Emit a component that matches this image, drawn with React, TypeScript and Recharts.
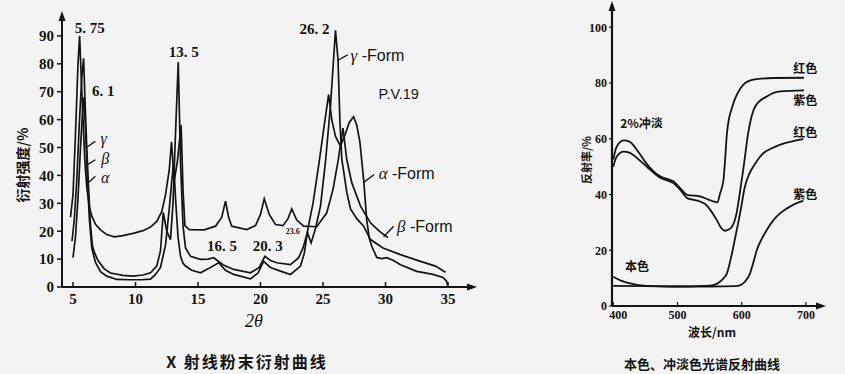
import { Line, LineChart, ReferenceDot, ReferenceLine, XAxis, YAxis } from "recharts";

type Pt = [number, number];

// X-ray powder diffraction, 2θ vs intensity %
const betaForm: Pt[] = [
  [4.8, 25], [5.0, 33], [5.2, 55], [5.4, 80], [5.53, 90], [5.65, 76], [5.8, 60], [5.95, 45], [6.1, 36], [6.3, 29],
  [6.5, 25.5], [6.8, 22.5], [7.2, 20.5], [7.7, 18.8], [8.3, 18], [9.0, 18.4], [9.8, 19.2], [10.6, 20.2], [11.2, 21.5],
  [11.7, 23.5], [12.1, 27], [12.4, 33], [12.7, 42], [12.88, 52], [13.1, 38], [13.35, 45], [13.65, 58], [13.8, 35],
  [13.95, 22], [14.3, 20.6], [15.5, 20.5], [16.4, 21.8], [16.9, 25], [17.2, 30.8], [17.45, 25], [17.7, 21.8],
  [18.9, 20.6], [19.6, 22], [20.0, 26], [20.3, 31.6], [20.7, 26], [21.2, 22.4], [21.8, 22], [22.2, 24.5], [22.5, 28],
  [22.9, 24], [23.45, 21.8], [24.5, 21.6], [25.3, 26.6], [25.8, 35], [26.2, 45], [26.6, 57], [26.9, 45.7],
  [27.3, 37.4], [28.0, 29], [28.8, 23], [29.5, 20], [30.2, 17.7],
];

const gammaForm: Pt[] = [
  [4.92, 16.4], [5.1, 24], [5.3, 38], [5.5, 58], [5.7, 75], [5.85, 82], [5.95, 68], [6.1, 50], [6.25, 35], [6.4, 22],
  [6.55, 15], [6.7, 12.5], [7.0, 9.5], [7.5, 6.5], [8.0, 5], [9.0, 4.2], [9.8, 3.9], [10.6, 4.3], [11.2, 5.1],
  [11.7, 7.5], [12.0, 13], [12.22, 26.7], [12.5, 20], [12.8, 17], [13.0, 30], [13.2, 55], [13.42, 80.6], [13.6, 45],
  [13.8, 22], [14.0, 14], [14.4, 11], [15.2, 9.9], [15.8, 10], [16.25, 10.5], [17.0, 8], [17.85, 6.3], [19.2, 5.1],
  [19.9, 7], [20.35, 11], [20.8, 9.5], [21.3, 8.7], [22.4, 8], [23.05, 10.5], [23.4, 14], [23.75, 19.5],
  [24.05, 15.8], [24.4, 21], [24.8, 29], [25.2, 45], [25.6, 65], [25.85, 82], [26.0, 92], [26.2, 81.5],
  [26.35, 60], [26.5, 46], [26.9, 34], [27.2, 28], [27.7, 24.5], [28.25, 21.8], [28.8, 17], [29.8, 14],
  [31.2, 11.6], [32.8, 9.2], [34.0, 7.5], [34.8, 5.3],
];

const alphaForm: Pt[] = [
  [5.0, 10.5], [5.2, 18], [5.4, 32], [5.6, 50], [5.78, 64], [5.88, 68], [6.0, 56], [6.15, 40], [6.3, 25], [6.5, 14],
  [6.8, 8.8], [7.2, 5.5], [7.7, 3.9], [8.5, 2.7], [9.5, 2.6], [10.5, 2.6], [11.2, 2.8], [11.6, 4.5], [12.0, 7],
  [12.4, 15], [12.7, 28], [12.9, 38], [13.05, 44.5], [13.2, 32], [13.4, 18], [13.6, 11], [13.8, 8.5], [14.0, 7.5],
  [14.5, 6], [15.2, 5.1], [15.8, 6.5], [16.65, 8.7], [17.2, 6], [17.85, 4.5], [19.2, 2.9], [19.8, 5], [20.25, 9.2],
  [20.8, 7], [21.6, 5.7], [22.4, 4.5], [23.2, 7.5], [23.5, 12], [23.8, 21], [24.2, 30], [24.7, 45], [25.1, 58],
  [25.45, 69], [25.7, 60], [26.0, 54], [26.4, 50.5], [26.8, 55], [27.1, 59], [27.45, 61], [27.7, 58], [27.95, 52],
  [28.25, 38.5], [28.5, 24], [28.7, 17.5], [28.9, 14.6], [29.3, 10.6], [29.7, 10.2], [30.1, 10.5], [30.6, 9.6],
  [31.2, 8], [32.5, 5.6], [33.8, 4.5], [34.6, 3.4], [34.9, 2], [35.0, 0],
];

const xrdXTicks = [5, 10, 15, 20, 25, 30, 35];
const xrdYTicks = [0, 10, 20, 30, 40, 50, 60, 70, 80, 90];
const peakLabels: [number, number, string][] = [
  [6.34, 92.8, "5. 75"],
  [7.42, 70.4, "6. 1"],
  [13.85, 84.4, "13. 5"],
  [24.32, 92.4, "26. 2"],
  [16.92, 14.6, "16. 5"],
  [20.58, 14.6, "20. 3"],
];
const greekTags: [number, number, string][] = [
  [7.45, 53.4, "γ"],
  [7.58, 46.2, "β"],
  [7.58, 39.1, "α"],
];
const formTags: [number, number, string][] = [
  [27.2, 83.2, "γ"],
  [29.45, 41, "α"],
  [30.92, 22, "β"],
];
const xrdPointers: [number, number, number, number][] = [
  [6.79, 52.2, 6.12, 50.2],
  [6.79, 45.6, 6.06, 43.6],
  [6.79, 39.7, 6.2, 37.3],
  [26.97, 83.2, 26.17, 81.2],
  [29.1, 40.3, 28.25, 37.5],
  [30.65, 21.8, 29.85, 18],
];

// spectral reflectance, nm vs %
const tintRed: Pt[] = [
  [400, 52.5], [405, 57], [416, 59.4], [425, 59], [440, 55], [452, 51], [473, 46.5], [485, 45.5], [494, 44.7],
  [505, 42], [515, 39.9], [535, 39.3], [548, 38.2], [556, 37.5], [562, 37.2], [566.4, 40.5], [571.6, 45.3],
  [574, 52], [577, 62], [580, 67], [584.6, 71], [592.4, 75.8], [602.6, 79.4], [618, 81.2], [650, 81.8], [697, 81.9],
];
const tintViolet: Pt[] = [
  [400, 50], [405, 53.5], [416, 55.4], [425, 55], [440, 52.5], [452, 50], [473, 46], [494, 44], [505, 41.5],
  [515, 38.7], [535, 37.5], [545, 36.2], [551, 34.5], [561, 30.9], [568, 28], [574, 27], [580, 27.5], [585, 28.5],
  [592, 33.3], [597, 40.5], [603, 50], [610, 62], [621, 71.6], [639, 75.2], [660, 77], [697, 77.4],
];
const massRed: Pt[] = [
  [400, 10.5], [413, 9], [426, 8.1], [452, 7.2], [504, 7], [540, 7.2], [556, 7.5], [566, 8.7], [572, 10], [577, 11.7],
  [582, 16], [587, 21.3], [592, 27], [597.5, 33.3], [605, 42.9], [612, 47.5], [618, 50], [625, 52.5], [634, 54.9],
  [646, 56.5], [660, 57.9], [680, 59.2], [696, 59.9],
];
const massViolet: Pt[] = [
  [400, 7.2], [450, 7.1], [500, 7], [550, 7], [590, 7.1], [598, 7.5], [605, 8.7], [613, 11.7], [618, 15.5],
  [623.5, 20.1], [631, 24], [639, 27.3], [650, 31], [660, 33.3], [680, 36.3], [696, 37.8],
];
const specXTicks = [400, 500, 600, 700];
const specYTicks = [0, 20, 40, 60, 80, 100];
const specTags: [number, number, string][] = [
  [699, 85.4, "红色"],
  [699, 74, "紫色"],
  [699, 62.6, "红色"],
  [699, 40.5, "紫色"],
  [444, 65.9, "2%冲淡"],
  [436.9, 14.7, "本色"],
];

const INK = "#141414";
const SERIF = "'Liberation Serif', 'DejaVu Serif', serif";
const SANS = "'Liberation Sans', Arial, sans-serif";
const CJK = "'Noto Sans CJK SC', sans-serif";

const toRows = (pts: Pt[]) => pts.map(([x, y]) => ({ x, y }));

function arrowUp(p: any) {
  const { cx, cy } = p;
  return <path d={`M${cx},${cy - 4} L${cx - 3.5},${cy + 6} L${cx + 3.5},${cy + 6} Z`} fill={INK} />;
}
function arrowRight(p: any) {
  const { cx, cy } = p;
  return <path d={`M${cx + 4},${cy} L${cx - 6},${cy - 3.5} L${cx - 6},${cy + 3.5} Z`} fill={INK} />;
}

function textShape(content: any, style: any, anchor = "middle") {
  return (p: any) => (
    <text x={p.cx} y={p.cy} textAnchor={anchor} dominantBaseline="central" fill={INK} style={style}>
      {content}
    </text>
  );
}

const tagDot = (key: string, x: number, y: number, shape: any) => (
  <ReferenceDot key={key} x={x} y={y} r={0} ifOverflow="visible" shape={shape} />
);

// first wavelength label sits a little right of its tick, clear of the "0"
function SpecXTick(p: any) {
  const shift = p.payload.value === specXTicks[0] ? 5 : 0;
  return (
    <text
      x={p.x + shift}
      y={p.y}
      dy="0.71em"
      textAnchor="middle"
      fill={INK}
      style={{ fontSize: 12, fontWeight: 700, fontFamily: SERIF }}
    >
      {p.payload.value}
    </text>
  );
}

function XrdChart() {
  const lineProps = {
    type: "linear" as const,
    dataKey: "y",
    stroke: INK,
    strokeWidth: 1.7,
    dot: false,
    isAnimationActive: false,
  };
  return (
    <LineChart width={480} height={340} margin={{ top: 15, right: 7, bottom: 0, left: 14 }}>
      <XAxis
        type="number"
        dataKey="x"
        domain={[4.12, 37]}
        ticks={xrdXTicks}
        interval={0}
        allowDataOverflow
        height={53}
        tickSize={-5}
        tickMargin={11}
        axisLine={{ stroke: INK, strokeWidth: 2 }}
        tickLine={{ stroke: INK, strokeWidth: 1.5 }}
        tick={{ fontSize: 15, fontWeight: 700, fontFamily: SERIF, fill: INK }}
      />
      <YAxis
        type="number"
        domain={[0, 97.5]}
        ticks={xrdYTicks}
        interval={0}
        allowDataOverflow
        width={48}
        tickSize={5}
        tickMargin={3}
        axisLine={{ stroke: INK, strokeWidth: 2 }}
        tickLine={{ stroke: INK, strokeWidth: 1.5 }}
        tick={{ fontSize: 15, fontWeight: 700, fontFamily: SERIF, fill: INK }}
      />
      <Line {...lineProps} data={toRows(betaForm)} />
      <Line {...lineProps} data={toRows(gammaForm)} />
      <Line {...lineProps} data={toRows(alphaForm)} />
      {xrdPointers.map(([x1, y1, x2, y2], i) => (
        <ReferenceLine
          key={`p${i}`}
          segment={[{ x: x1, y: y1 }, { x: x2, y: y2 }]}
          stroke={INK}
          strokeWidth={1.3}
          ifOverflow="visible"
        />
      ))}
      {peakLabels.map(([x, y, t]) =>
        tagDot(`pk${t}`, x, y, textShape(t, { fontSize: 15, fontWeight: 700, fontFamily: SERIF })),
      )}
      {greekTags.map(([x, y, t]) =>
        tagDot(`g${t}`, x, y, textShape(t, { fontSize: 16, fontStyle: "italic", fontFamily: SERIF })),
      )}
      {formTags.map(([x, y, t]) =>
        tagDot(
          `f${t}`,
          x,
          y,
          textShape(
            <>
              <tspan style={{ fontStyle: "italic", fontFamily: SERIF, fontSize: 17 }}>{t}</tspan>
              <tspan style={{ fontFamily: SANS, fontSize: 16 }}> -Form</tspan>
            </>,
            {},
            "start",
          ),
        ),
      )}
      {tagDot("pv", 31.06, 69.1, textShape("P.V.19", { fontSize: 14.5, fontFamily: SANS }))}
      {tagDot("p236", 22.58, 20, textShape("23.6", { fontSize: 8, fontWeight: 700, fontFamily: SERIF }))}
      {tagDot("ay", 4.12, 97.5, arrowUp)}
      {tagDot("ax", 37, 0, arrowRight)}
    </LineChart>
  );
}

function SpectrumChart() {
  const lineProps = {
    type: "monotone" as const,
    dataKey: "y",
    stroke: INK,
    strokeWidth: 1.8,
    dot: false,
    isAnimationActive: false,
  };
  return (
    <LineChart width={280} height={340} margin={{ top: 5, right: 18, bottom: 0, left: 14 }}>
      <XAxis
        type="number"
        dataKey="x"
        domain={[398, 725]}
        ticks={specXTicks}
        interval={0}
        allowDataOverflow
        height={34}
        tickSize={-4}
        tickMargin={8}
        axisLine={{ stroke: INK, strokeWidth: 2 }}
        tickLine={{ stroke: INK, strokeWidth: 1.2 }}
        tick={<SpecXTick />}
      />
      <YAxis
        type="number"
        domain={[0, 108]}
        ticks={specYTicks}
        interval={0}
        allowDataOverflow
        width={38}
        tickSize={3}
        tickMargin={2}
        axisLine={{ stroke: INK, strokeWidth: 2.2 }}
        tickLine={{ stroke: INK, strokeWidth: 1.2 }}
        tick={{ fontSize: 12, fontWeight: 700, fontFamily: SERIF, fill: INK }}
      />
      <Line {...lineProps} data={toRows(tintRed)} />
      <Line {...lineProps} data={toRows(tintViolet)} />
      <Line {...lineProps} data={toRows(massRed)} />
      <Line {...lineProps} data={toRows(massViolet)} />
      {specTags.map(([x, y, t], i) =>
        tagDot(`s${i}`, x, y, textShape(t, { fontSize: 12, fontWeight: 700, fontFamily: CJK })),
      )}
      {tagDot("ay", 398, 108, arrowUp)}
      {tagDot("ax", 725, 0, arrowRight)}
    </LineChart>
  );
}

const centered = (left: number, top: number, extra: any = {}) => ({
  position: "absolute" as const,
  left,
  top,
  transform: `translate(-50%, -50%)${extra.rotate ? " rotate(-90deg)" : ""}`,
  whiteSpace: "nowrap" as const,
  color: INK,
  lineHeight: 1,
  ...extra.style,
});

export default function App() {
  return (
    <div style={{ position: "absolute", left: 0, top: 0, width: 845, height: 374, background: "#f3f3f3", overflow: "hidden" }}>
      <div style={{ position: "absolute", left: 0, top: 0 }}>
        <XrdChart />
      </div>
      <div style={{ position: "absolute", left: 560, top: 0 }}>
        <SpectrumChart />
      </div>
      <div style={centered(22, 165, { rotate: true, style: { fontFamily: CJK, fontWeight: 700, fontSize: 14 } })}>衍射强度/%</div>
      <div style={centered(254, 321, { style: { fontFamily: SERIF, fontStyle: "italic", fontSize: 18 } })}>2θ</div>
      <div style={centered(247, 361, { style: { fontFamily: CJK, fontWeight: 700, fontSize: 16, letterSpacing: 2 } })}>
        X 射线粉末衍射曲线
      </div>
      <div style={centered(586, 160, { rotate: true, style: { fontFamily: CJK, fontWeight: 700, fontSize: 11 } })}>反射率/%</div>
      <div style={centered(712, 332, { style: { fontFamily: CJK, fontWeight: 700, fontSize: 12 } })}>波长/nm</div>
      <div style={centered(702, 363, { style: { fontFamily: CJK, fontWeight: 700, fontSize: 13 } })}>
        本色、冲淡色光谱反射曲线
      </div>
    </div>
  );
}
